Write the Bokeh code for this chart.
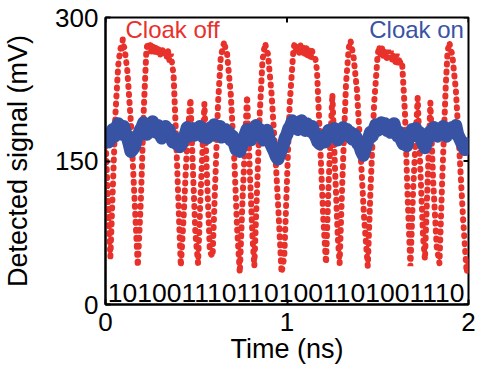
import math
from bokeh.plotting import figure
from bokeh.models import Range1d, FixedTicker, Label, ColumnDataSource
from bokeh.embed import file_html
from bokeh.resources import INLINE

# ---------------- data ----------------
x_ticks = [0, 1, 2]
y_ticks = [0, 150, 300]
bits = "1010011101101001101001110"
x_label = "Time (ns)"
y_label = "Detected signal (mV)"

# Cloak off (red) trace: time (ns), signal (mV)
red_t = [0.000, 0.013, 0.027, 0.040, 0.055, 0.070, 0.078, 0.085, 0.090, 0.095, 0.100, 0.105, 0.120, 0.140, 0.160, 0.178,
         0.195, 0.210, 0.225, 0.232, 0.240, 0.248, 0.256, 0.264, 0.272, 0.280, 0.288, 0.296, 0.304, 0.312, 0.320, 0.328,
         0.336, 0.344, 0.352, 0.360, 0.368, 0.375, 0.390, 0.405, 0.415, 0.430, 0.450, 0.468, 0.480, 0.495, 0.510,
         0.525, 0.545, 0.560, 0.575, 0.590, 0.605, 0.620, 0.635, 0.645, 0.655, 0.662, 0.670, 0.690, 0.710, 0.725, 0.740,
         0.755, 0.780, 0.795, 0.810, 0.820, 0.835, 0.850, 0.865, 0.873, 0.880, 0.888, 0.895, 0.915, 0.935, 0.955, 0.970,
         0.985, 1.000, 1.015, 1.035, 1.042, 1.050, 1.058, 1.066, 1.074, 1.082, 1.090, 1.098, 1.106, 1.114, 1.122, 1.130,
         1.138, 1.146, 1.154, 1.165, 1.180, 1.200, 1.215, 1.230, 1.250, 1.265, 1.280, 1.290, 1.305, 1.325, 1.340, 1.345,
         1.350, 1.357, 1.365, 1.385, 1.405, 1.425, 1.445, 1.460, 1.480, 1.500, 1.508, 1.516, 1.524, 1.532, 1.540, 1.548,
         1.556, 1.564, 1.572, 1.580, 1.588, 1.596, 1.604, 1.612, 1.620, 1.628, 1.635, 1.650, 1.665, 1.680, 1.695, 1.720,
         1.735, 1.750, 1.760, 1.775, 1.790, 1.805, 1.825, 1.840, 1.855, 1.875, 1.885, 1.895, 1.902, 1.910, 1.930, 1.950,
         1.970, 1.990, 2.000]
red_v = [175, 110, 50, 120, 200, 250, 262, 270, 266, 277, 270, 268, 245, 190, 110, 40,
         110, 200, 265, 274, 262, 272, 263, 271, 262, 270, 261, 268, 259, 269, 260, 267,
         257, 266, 255, 262, 250, 240, 170, 90, 40, 90, 170, 215, 150, 75, 43,
         120, 210, 130, 55, 50, 130, 210, 258, 268, 275, 266, 262, 220, 150, 80, 33,
         110, 218, 140, 70, 40, 120, 200, 255, 266, 273, 265, 262, 220, 160, 90, 33,
         50, 130, 210, 265, 274, 264, 272, 262, 271, 263, 270, 261, 269, 260, 267, 258,
         266, 256, 260, 245, 180, 90, 43, 130, 220, 140, 70, 43, 130, 230, 268, 272,
         276, 268, 262, 225, 160, 90, 40, 120, 210, 262, 270, 259, 268, 258, 267, 256,
         266, 257, 265, 254, 263, 252, 262, 250, 258, 248, 250, 200, 110, 40, 120, 216,
         140, 70, 47, 130, 211, 130, 60, 43, 130, 230, 265, 274, 266, 262, 225, 160,
         90, 33, 45]

# Cloak on (blue) trace: time (ns) every 0.01 ns, signal (mV)
blue_t = [i / 100 for i in range(201)]
blue_v = [182, 176, 170, 177, 183, 176, 185, 189, 181, 178,
          186, 180, 175, 168, 160, 162, 165, 173, 176, 182,
          185, 190, 183, 178, 187, 182, 191, 185, 180, 187,
          178, 174, 180, 186, 177, 183, 176, 170, 174, 168,
          170, 165, 168, 174, 178, 185, 176, 180, 184, 177,
          183, 178, 186, 180, 175, 181, 174, 179, 185, 177,
          188, 182, 180, 186, 175, 178, 183, 175, 180, 172,
          176, 168, 162, 165, 160, 166, 173, 178, 183, 177,
          172, 178, 181, 187, 179, 183, 177, 172, 179, 182,
          174, 168, 164, 160, 155, 152, 157, 162, 167, 174,
          178, 184, 187, 192, 185, 190, 183, 189, 192, 186,
          182, 189, 186, 181, 186, 178, 175, 170, 168, 172,
          176, 170, 178, 182, 175, 180, 184, 177, 172, 176,
          180, 185, 178, 183, 176, 180, 173, 178, 175, 168,
          166, 160, 156, 162, 168, 174, 180, 176, 183, 188,
          182, 188, 190, 184, 189, 182, 187, 180, 185, 189,
          181, 176, 180, 172, 168, 172, 166, 174, 178, 183,
          180, 184, 176, 180, 172, 168, 164, 170, 176, 181,
          178, 185, 181, 176, 183, 178, 186, 180, 176, 182,
          179, 185, 180, 187, 178, 174, 170, 166, 162, 168,
          164]

RED = "#e9312b"
BLUE = "#3953a4"
FONT = "Liberation Sans"

p = figure(width=482, height=372, output_backend="svg", toolbar_location=None,
           x_range=Range1d(0, 2), y_range=Range1d(0, 300),
           min_border_left=101, min_border_top=17, min_border_right=14, min_border_bottom=68)
p.grid.visible = False
p.outline_line_color = "black"
p.outline_line_width = 2
p.background_fill_color = "white"
p.border_fill_color = "white"

red_src = ColumnDataSource(dict(t=red_t, v=red_v))
blue_src = ColumnDataSource(dict(t=blue_t, v=blue_v))

p.line("t", "v", source=red_src, line_color=RED, line_width=6, line_dash="1 7", line_cap="round")
p.line("t", "v", source=blue_src, line_color=BLUE, line_width=13, line_join="round")

for ax in p.xaxis + p.yaxis:
    ax.major_tick_in = 5
    ax.major_tick_out = 0
    ax.minor_tick_line_color = None
    ax.axis_line_width = 2
    ax.major_tick_line_width = 2
    ax.major_label_text_font = FONT
    ax.major_label_text_font_size = "26px"
    ax.major_label_text_color = "black"
    ax.axis_label_text_font = FONT
    ax.axis_label_text_font_size = "27px"
    ax.axis_label_text_font_style = "normal"
    ax.axis_label_text_color = "black"

p.xaxis.ticker = FixedTicker(ticks=x_ticks)
p.yaxis.ticker = FixedTicker(ticks=y_ticks)
p.xaxis.axis_label = x_label
p.yaxis.axis_label = y_label
p.xaxis.major_label_standoff = 8
p.xaxis.axis_label_standoff = 0
p.yaxis.major_label_standoff = 7
p.yaxis.axis_label_standoff = 19

# mirrored inward ticks on the top and right edges
p.ray(x=x_ticks, y=[y_ticks[-1]] * len(x_ticks), length=5, length_units="screen",
      angle=-math.pi / 2, line_color="black", line_width=2)
p.ray(x=[x_ticks[-1]] * len(y_ticks), y=y_ticks, length=5, length_units="screen",
      angle=math.pi, line_color="black", line_width=2)

p.add_layout(Label(x=0.11, y=287, text="Cloak off", text_color=RED, text_font=FONT,
                   text_font_size="24px", text_baseline="middle", text_align="left"))
p.add_layout(Label(x=1.975, y=287, text="Cloak on", text_color=BLUE, text_font=FONT,
                   text_font_size="24px", text_baseline="middle", text_align="right"))
p.add_layout(Label(x=0.995, y=12, text=bits, text_color="black", text_font=FONT,
                   text_font_size="26.5px", text_baseline="middle", text_align="center"))

open("out.html", "w").write(file_html(p, INLINE))
